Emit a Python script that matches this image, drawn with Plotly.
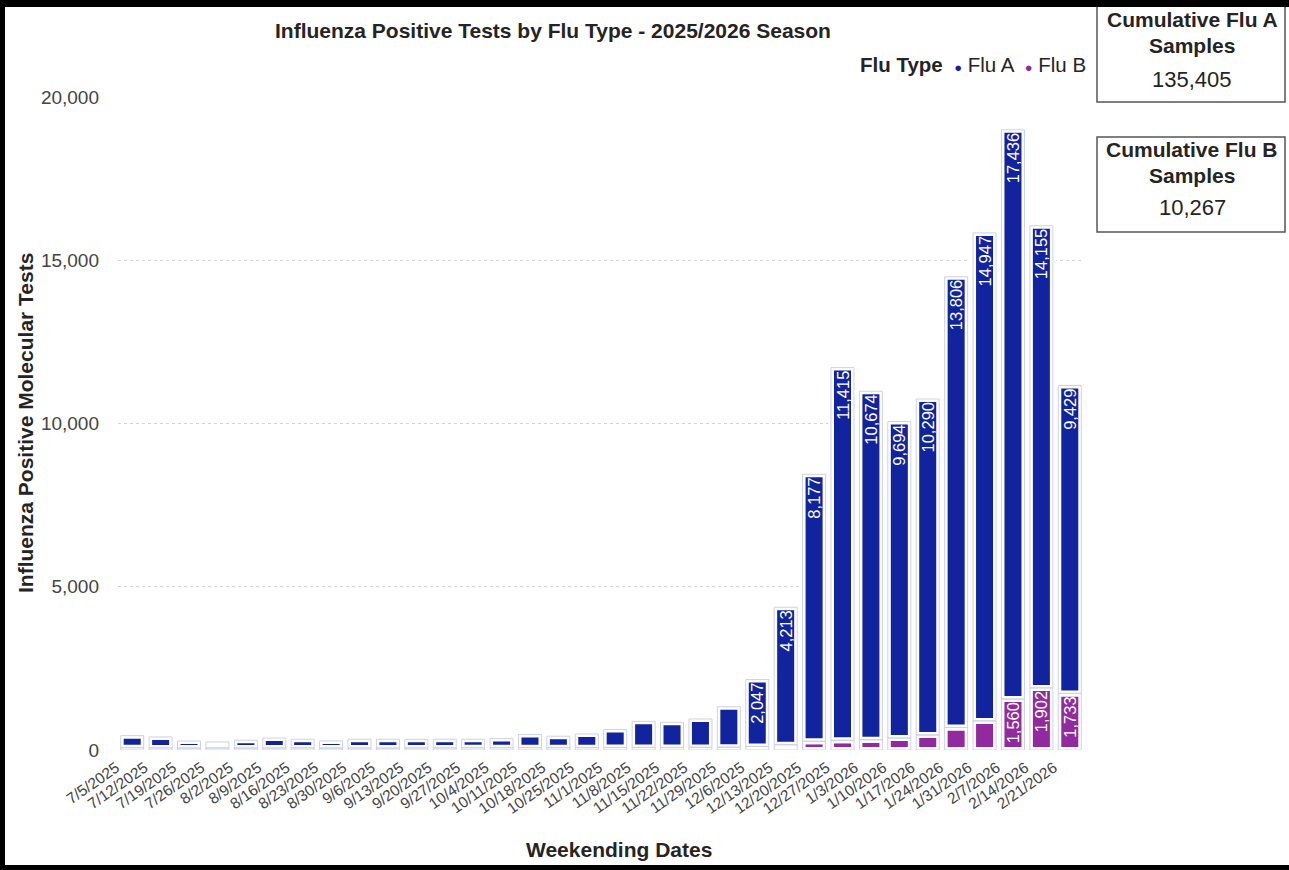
import plotly.graph_objects as go

# ---------------- data ----------------
weeks = ["7/5/2025", "7/12/2025", "7/19/2025", "7/26/2025", "8/2/2025", "8/9/2025",
         "8/16/2025", "8/23/2025", "8/30/2025", "9/6/2025", "9/13/2025", "9/20/2025",
         "9/27/2025", "10/4/2025", "10/11/2025", "10/18/2025", "10/25/2025", "11/1/2025",
         "11/8/2025", "11/15/2025", "11/22/2025", "11/29/2025", "12/6/2025", "12/13/2025",
         "12/20/2025", "12/27/2025", "1/3/2026", "1/10/2026", "1/17/2026", "1/24/2026",
         "1/31/2026", "2/7/2026", "2/14/2026", "2/21/2026"]

flu_a = [370, 335, 215, 185, 240, 305, 265, 218, 268, 270, 265, 265,
         262, 280, 400, 352, 420, 550, 800, 775, 870, 1240, 2047, 4213,
         8177, 11415, 10674, 9694, 10290, 13806, 14947, 17436, 14155, 9429]

flu_b = [70, 65, 60, 62, 60, 62, 65, 60, 62, 60, 62, 65,
         68, 70, 72, 70, 72, 75, 78, 75, 80, 85, 110, 160,
         266, 297, 315, 367, 460, 690, 890, 1560, 1902, 1733]

cum_a_label = "135,405"
cum_b_label = "10,267"
y_ticks = [0, 5000, 10000, 15000, 20000]

# ---------------- style ----------------
BLUE = "#12239E"
PURPLE = "#912A9E"
OUTLINE = "#cdd1e6"
FONT = "Liberation Sans, Arial, sans-serif"
TXT = "#252423"

W, H = 1289, 870
ML, MR, MT, MB = 118, 205, 97, 120
PW, PH = W - ML - MR, H - MT - MB


def px(x):
    return (x - ML) / PW


def py(y):
    return (H - MB - y) / PH


def lab(v):
    return f"{v:,}" if v >= 1500 else ""


text_a = [lab(v) for v in flu_a]
text_b = [lab(v) for v in flu_b]
base_b = [0] * len(flu_b)

fig = go.Figure()

common_txt = dict(textposition="inside", insidetextanchor="end", textangle=-90,
                  textfont=dict(color="white", size=16.5, family=FONT),
                  constraintext="none")

fig.add_trace(go.Bar(x=weeks, y=flu_b, base=base_b, name="Flu B", width=0.81,
                     marker=dict(color=PURPLE, line=dict(color="white", width=6)),
                     text=text_b, showlegend=False, **common_txt))
fig.add_trace(go.Bar(x=weeks, y=flu_a, base=flu_b, name="Flu A", width=0.81,
                     marker=dict(color=BLUE, line=dict(color="white", width=6)),
                     text=text_a, showlegend=False, **common_txt))
# thin outline boxes around each segment
fig.add_trace(go.Bar(x=weeks, y=flu_b, base=base_b, width=0.81, hoverinfo="skip",
                     marker=dict(color="rgba(0,0,0,0)", line=dict(color=OUTLINE, width=1)),
                     showlegend=False))
fig.add_trace(go.Bar(x=weeks, y=flu_a, base=flu_b, width=0.81, hoverinfo="skip",
                     marker=dict(color="rgba(0,0,0,0)", line=dict(color=OUTLINE, width=1)),
                     showlegend=False))


def ann(text, x, y, size, angle=0, anchor="center"):
    return dict(text=text, x=px(x), y=py(y), xref="paper", yref="paper", showarrow=False,
                textangle=angle, xanchor=anchor, yanchor="middle",
                font=dict(size=size, color=TXT, family=FONT))


dot = "<span style='color:{};font-size:13px'>●</span>"

annotations = [
    ann("<b>Influenza Positive Tests by Flu Type - 2025/2026 Season</b>", 553, 30, 21),
    ann(f"<b>Flu Type</b>  {dot.format(BLUE)} Flu A  {dot.format(PURPLE)} Flu B",
        1088, 65, 20.5, anchor="right"),
    ann("<b>Influenza Positive Molecular Tests</b>", 25, 423, 21, angle=-90),
    ann("<b>Weekending Dates</b>", 619, 850, 21),
    ann("<b>Cumulative Flu A</b>", 1192, 19, 21),
    ann("<b>Samples</b>", 1192, 45, 21),
    ann(cum_a_label, 1192, 79, 22),
    ann("<b>Cumulative Flu B</b>", 1192, 150, 21),
    ann("<b>Samples</b>", 1192, 175, 21),
    ann(cum_b_label, 1192, 208, 22),
]

shapes = [
    # card boxes
    dict(type="rect", xref="paper", yref="paper", x0=px(1097), x1=px(1285), y0=py(102), y1=py(-2),
         line=dict(color="#555555", width=1.5), fillcolor="rgba(0,0,0,0)"),
    dict(type="rect", xref="paper", yref="paper", x0=px(1097), x1=px(1285), y0=py(232), y1=py(137),
         line=dict(color="#555555", width=1.5), fillcolor="rgba(0,0,0,0)"),
    # page frame (left, top, bottom)
    dict(type="rect", xref="paper", yref="paper", x0=px(0), x1=px(5), y0=py(H), y1=py(0),
         line=dict(width=0), fillcolor="black"),
    dict(type="rect", xref="paper", yref="paper", x0=px(0), x1=px(W), y0=py(7), y1=py(0),
         line=dict(width=0), fillcolor="black"),
    dict(type="rect", xref="paper", yref="paper", x0=px(0), x1=px(W), y0=py(H), y1=py(865),
         line=dict(width=0), fillcolor="black"),
]

fig.update_layout(
    width=W, height=H,
    margin=dict(l=ML, r=MR, t=MT, b=MB, pad=0),
    paper_bgcolor="white", plot_bgcolor="white",
    barmode="overlay",
    font=dict(family=FONT, color="#444444"),
    annotations=annotations,
    shapes=shapes,
    showlegend=False,
)

fig.update_xaxes(type="category", tickangle=-35, showgrid=False, showline=False,
                 ticks="", ticklabelshift=-16, ticklabelstandoff=5,
                 tickfont=dict(size=15.5, color="#444444", family=FONT))
fig.update_yaxes(range=[0, 20000], tickvals=y_ticks, tickformat=",d",
                 showgrid=True, gridcolor="#d4d4d4", griddash="dot", gridwidth=1,
                 zeroline=False, showline=False, ticks="", ticklabelstandoff=18,
                 tickfont=dict(size=19, color="#444444", family=FONT))

fig.write_html("out.html", config={"displayModeBar": False},
               post_script="document.body.style.margin='0';document.body.style.overflow='hidden';")
